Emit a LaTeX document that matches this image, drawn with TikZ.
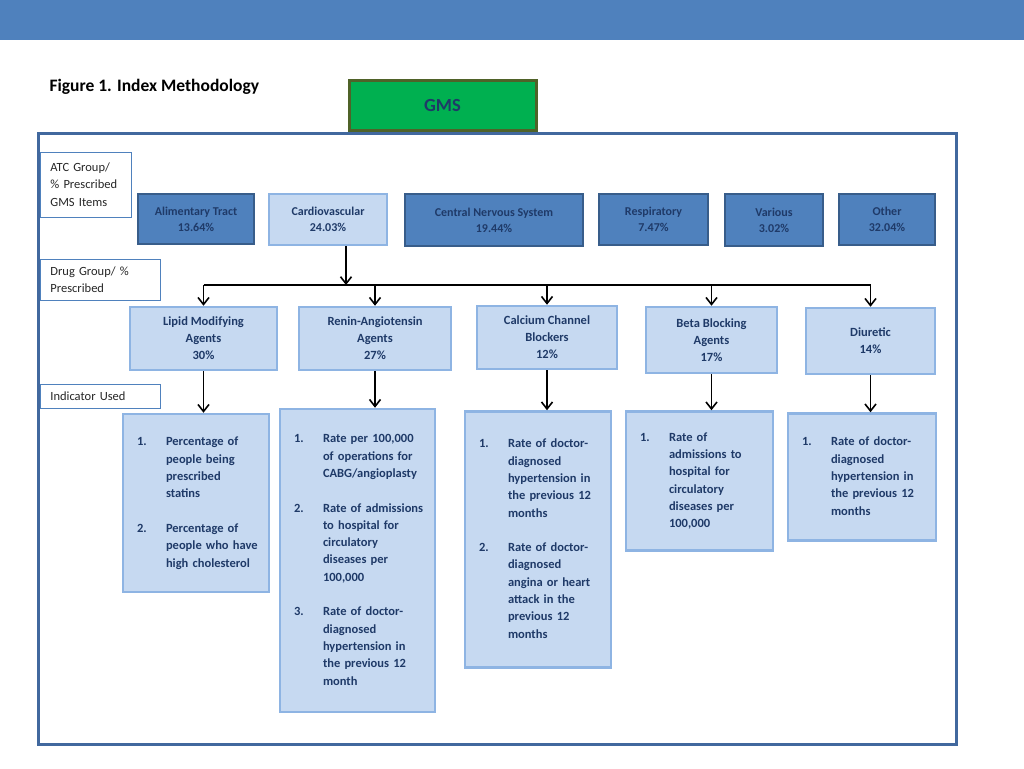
\documentclass[tikz,border=0pt]{standalone}
\usepackage{fontspec}
\setmainfont{Carlito}
\usepackage{tikz}
\usetikzlibrary{arrows.meta,positioning}
\definecolor{BannerBlue}{HTML}{4F81BD}
\definecolor{FrameBlue}{HTML}{41689E}
\definecolor{DarkFill}{HTML}{4F81BD}
\definecolor{DarkBorder}{HTML}{385D8A}
\definecolor{LightFill}{HTML}{C6D9F1}
\definecolor{LightBorder}{HTML}{8EB4E3}
\definecolor{NavyText}{HTML}{1F3A68}
\definecolor{GMSGreen}{HTML}{00B050}
\definecolor{GMSBorder}{HTML}{4F6228}
\definecolor{LabelText}{HTML}{262626}
\tikzset{
    % Base node style
    basenode/.style={
        draw=LightBorder,
        fill=LightFill,
        line width=2.5pt,
        align=center,
        text=NavyText,
        font=\fontsize{12.5}{17}\selectfont\bfseries
    },
    % ATC group (dark)
    atcnode/.style={
        basenode,
        fill=DarkFill,
        draw=DarkBorder,
        font=\fontsize{12}{16}\selectfont\bfseries
    },
    % ATC group (highlighted)
    atclight/.style={
        basenode,
        font=\fontsize{12}{16}\selectfont\bfseries
    },
    % Drug group
    drugnode/.style={
        basenode
    },
    % Indicator box
    indnode/.style={
        basenode,
        align=left,
        inner xsep=14pt,
        font=\fontsize{12.5}{17.3}\selectfont\bfseries
    },
    % Row label on the left
    labelnode/.style={
        draw=BannerBlue,
        fill=white,
        line width=0.8pt,
        align=left,
        anchor=west,
        inner xsep=10pt,
        text=LabelText,
        font=\fontsize{12.5}{17.3}\selectfont
    },
    % GMS box
    gmsnode/.style={
        draw=GMSBorder,
        fill=GMSGreen,
        line width=3pt,
        text=NavyText,
        font=\fontsize{18.5}{20}\selectfont\bfseries
    },
    % Arrow style
    myarrow/.style={
        -{Straight Barb[length=7pt,width=11pt]},
        line width=1.6pt,
        draw=black
    },
    % Distribution line
    busline/.style={
        line width=1.6pt,
        draw=black
    }
}

\begin{document}
\begin{tikzpicture}[x=1pt,y=-1pt]
    \useasboundingbox (0,0) rectangle (1024,768);
    \fill[BannerBlue] (0,0) rectangle (1024,40);
    \node[anchor=west, font=\fontsize{17.5}{20}\selectfont\bfseries] (title) at (46,87) {Figure 1. Index Methodology};
    \draw[FrameBlue, line width=3pt] (38,133) rectangle (956,744);
    \node[gmsnode, minimum width=187, minimum height=50] (gms) at (442.5,105) {GMS};

    % row labels
    \node[labelnode, minimum width=91, minimum height=65, text width=71] (atclabel) at (40,184.5) {ATC Group/\\\% Prescribed\\GMS Items};
    \node[labelnode, minimum width=120, minimum height=41, text width=100] (druglabel) at (40,279.5) {Drug Group/ \%\\Prescribed};
    \node[labelnode, minimum width=120, minimum height=24, text width=100] (indlabel) at (40,396) {Indicator Used};

    % ATC groups
    \node[atcnode, minimum width=116, minimum height=50] (alim) at (196,219) {Alimentary Tract\\13.64\%};
    \node[atclight, minimum width=118, minimum height=51] (cardio) at (328,219.5) {Cardiovascular\\24.03\%};
    \node[atcnode, minimum width=178, minimum height=52] (cns) at (494,220) {Central Nervous System\\19.44\%};
    \node[atcnode, minimum width=109, minimum height=51] (resp) at (653.5,219.5) {Respiratory\\7.47\%};
    \node[atcnode, minimum width=98, minimum height=52] (various) at (774,220) {Various\\3.02\%};
    \node[atcnode, minimum width=96, minimum height=51] (other) at (887,219.5) {Other\\32.04\%};

    % drug groups
    \node[drugnode, minimum width=147, minimum height=63] (lipid) at (203.5,338.5) {Lipid Modifying\\Agents\\30\%};
    \node[drugnode, minimum width=152, minimum height=63] (renin) at (375,338.5) {Renin-Angiotensin\\Agents\\27\%};
    \node[drugnode, minimum width=140, minimum height=63] (calcium) at (547,337.5) {Calcium Channel\\Blockers\\12\%};
    \node[drugnode, minimum width=131, minimum height=66] (beta) at (711.5,340) {Beta Blocking\\Agents\\17\%};
    \node[drugnode, minimum width=129, minimum height=66] (diuretic) at (870.5,341) {Diuretic\\14\%};

    % indicators
    \node[indnode, minimum width=146, minimum height=178, text width=118] (statins) at (196,503) {%
        \begin{tabular}{@{}p{29pt}@{}l@{}}
        1. & Percentage of\\ & people being\\ & prescribed\\ & statins\\ & \\
        2. & Percentage of\\ & people who have\\ & high cholesterol
        \end{tabular}};
    \node[indnode, minimum width=155, minimum height=303, text width=127] (operations) at (357.5,560.5) {%
        \begin{tabular}{@{}p{29pt}@{}l@{}}
        1. & Rate per 100,000\\ & of operations for\\ & CABG/angioplasty\\ & \\
        2. & Rate of admissions\\ & to hospital for\\ & circulatory\\ & diseases per\\ & 100,000\\ & \\
        3. & Rate of doctor-\\ & diagnosed\\ & hypertension in\\ & the previous 12\\ & month
        \end{tabular}};
    \node[indnode, minimum width=146, minimum height=256, text width=118] (angina) at (538,539.5) {%
        \begin{tabular}{@{}p{29pt}@{}l@{}}
        1. & Rate of doctor-\\ & diagnosed\\ & hypertension in\\ & the previous 12\\ & months\\ & \\
        2. & Rate of doctor-\\ & diagnosed\\ & angina or heart\\ & attack in the\\ & previous 12\\ & months
        \end{tabular}};
    \node[indnode, minimum width=147, minimum height=139, text width=119] (admissions) at (699.5,481) {%
        \begin{tabular}{@{}p{29pt}@{}l@{}}
        1. & Rate of\\ & admissions to\\ & hospital for\\ & circulatory\\ & diseases per\\ & 100,000
        \end{tabular}};
    \node[indnode, minimum width=148, minimum height=127, text width=120] (hypertension) at (862,477) {%
        \begin{tabular}{@{}p{29pt}@{}l@{}}
        1. & Rate of doctor-\\ & diagnosed\\ & hypertension in\\ & the previous 12\\ & months
        \end{tabular}};

    % connectors
    \coordinate (bus) at (346,285);
    \draw[myarrow] (cardio.south -| bus) -- (bus);
    \draw[busline] (lipid.north |- bus) -- (diuretic.north |- bus);
    \draw[myarrow] (lipid.north |- bus) -- (lipid.north);
    \draw[myarrow] (renin.north |- bus) -- (renin.north);
    \draw[myarrow] (calcium.north |- bus) -- (calcium.north);
    \draw[myarrow] (beta.north |- bus) -- (beta.north);
    \draw[myarrow] (diuretic.north |- bus) -- (diuretic.north);

    \draw[myarrow] (lipid.south) -- (lipid.south |- statins.north);
    \draw[myarrow] (renin.south) -- (renin.south |- operations.north);
    \draw[myarrow] (calcium.south) -- (calcium.south |- angina.north);
    \draw[myarrow] (beta.south) -- (beta.south |- admissions.north);
    \draw[myarrow] (diuretic.south) -- (diuretic.south |- hypertension.north);
\end{tikzpicture}
\end{document}
